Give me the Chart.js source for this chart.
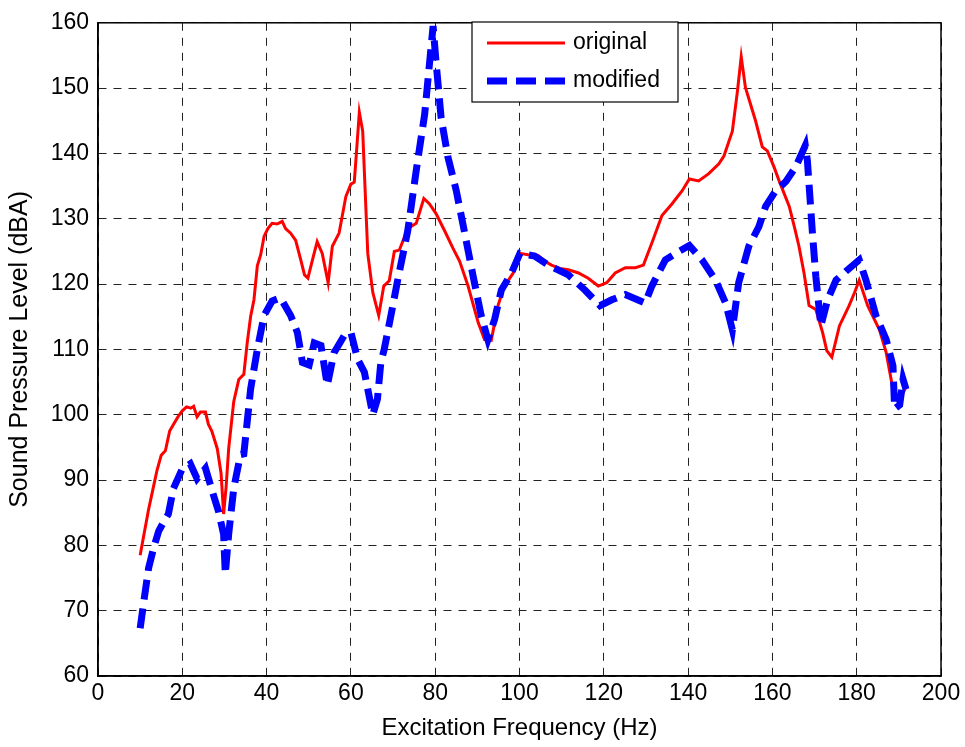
<!DOCTYPE html>
<html>
<head>
<meta charset="utf-8">
<title>Sound Pressure Level vs Excitation Frequency</title>
<script src="https://cdn.jsdelivr.net/npm/chart.js@4.4.1/dist/chart.umd.min.js"></script>
<style>
    html, body { margin: 0; padding: 0; background: #ffffff; }
    #wrap { width: 965px; height: 747px; }
</style>
</head>
<body>
<div id="wrap"><canvas id="splChart" width="965" height="747"></canvas></div>
<script>
// ---- data ----
const freqOriginal = [10, 11, 12, 13, 14, 15, 16, 17, 18, 19, 20, 21, 22, 22.7, 23.5, 24.3, 25.5, 26.2, 27, 28.3, 29.2, 29.8, 30.4, 31, 32.2, 33.4, 34.6, 35.4, 36.2, 37, 37.8, 38.6, 39.4, 40.3, 41.3, 42.5, 43.7, 44.5, 45.7, 46.9, 48.1, 49, 49.8, 51, 52, 53.2, 54.6, 55.6, 57.2, 58.8, 60, 60.8, 61.3, 62, 62.8, 63.4, 64, 65.2, 66.6, 67.8, 69.1, 70.3, 71.5, 73.5, 75.5, 77.3, 78.6, 80.2, 82.2, 84.2, 85.8, 87.8, 90.2, 91.7, 93.3, 94.9, 96.4, 98.5, 100.1, 102, 104.4, 106, 107.6, 109.5, 111.6, 114, 116.3, 118.7, 120.7, 122.7, 125.1, 127.5, 129.4, 131.4, 133.8, 136.2, 138.6, 140.3, 142.5, 144.9, 147.3, 148.5, 150.5, 151.7, 152.6, 153.6, 156, 157.6, 158.8, 160.4, 161.6, 164, 165.2, 166.3, 167.5, 168.7, 170.3, 171.9, 172.9, 174.1, 175.9, 178.2, 179.5, 180.6, 182.6, 185.4, 187, 188.6, 190.2, 191.7];
const splOriginal = [78.5, 82, 85.5, 88.5, 91.5, 93.8, 94.5, 97.5, 98.6, 99.7, 100.6, 101.2, 101, 101.3, 99.7, 100.4, 100.4, 98.5, 97.5, 94.8, 91, 84.8, 89, 94.8, 102, 105.4, 106.2, 111, 115, 117.6, 122.8, 124.5, 127.3, 128.5, 129.3, 129.2, 129.6, 128.5, 127.8, 126.7, 123.7, 121.4, 120.9, 124, 126.5, 124.7, 120.2, 125.8, 127.8, 133.4, 135.3, 135.6, 140, 146.3, 143.4, 134, 124.7, 118.7, 115.2, 119.7, 120.5, 125, 125.2, 128.5, 129.3, 133.1, 132.3, 130.8, 128.2, 125.5, 123.5, 119.7, 114.1, 111.5, 111.4, 116.7, 119.7, 121.7, 124.7, 124.5, 124.4, 123.5, 122.9, 122.4, 122.2, 121.7, 120.9, 119.7, 120.2, 121.7, 122.5, 122.5, 122.9, 126.3, 130.5, 132.3, 134.3, 136.1, 135.8, 136.9, 138.4, 139.6, 143.4, 149.5, 154.8, 150.1, 145, 141, 140.4, 137.9, 135.8, 131.9, 128.8, 125.8, 121.7, 116.7, 116.1, 112.6, 109.8, 108.8, 113.6, 116.7, 118.7, 120.6, 116.7, 113, 109.5, 103.9, 102.4, 104.2];

const freqModified = [10, 11, 12, 13.2, 14.4, 15.5, 16.7, 17.9, 19.9, 21.9, 23.5, 25.5, 27.1, 28.6, 29.8, 30.2, 31, 32.2, 33.8, 34.6, 36.2, 37.8, 39.4, 41.3, 43.3, 45.7, 47.3, 48.5, 50.1, 51.3, 52.9, 54.4, 56, 58.4, 60, 61.6, 63.2, 65.2, 66.3, 67.1, 67.9, 69.5, 71.1, 73.5, 75.5, 77.5, 79.5, 80.2, 81.4, 83, 85, 87, 89, 90.9, 92.5, 94.1, 95.7, 98.1, 100.1, 103.6, 107.1, 111.6, 115.5, 119.1, 121.9, 125.1, 129.8, 131.4, 134.6, 137.8, 140.3, 143.3, 146.5, 148.9, 150.5, 152, 154.4, 156.8, 158.4, 160.8, 163.2, 165.5, 167.8, 168.3, 169.5, 170.3, 171.5, 173.1, 175.1, 177.5, 180.6, 182.2, 184.6, 187, 188.6, 189, 190.2, 191, 191.7];
const splModified = [67.3, 72, 76.5, 79.6, 82.2, 83.5, 84.8, 88.7, 91.6, 92.5, 90.2, 91.8, 88.3, 85.2, 81.7, 75.6, 81.7, 88.7, 93.9, 94, 103.9, 110, 115.2, 117.4, 117.9, 115.2, 112.6, 108, 107.6, 111, 110.6, 104.5, 109.5, 112.1, 112.6, 108.5, 106.5, 100, 102.4, 108, 110, 115.2, 120.6, 128.2, 137.4, 146, 159.5, 154, 145.5, 139.5, 134.3, 127.8, 121.2, 115.2, 111.5, 114.6, 119.1, 121.7, 124.7, 124.3, 122.8, 121.4, 119.1, 116.7, 117.6, 118.4, 117.1, 119.7, 123.7, 125, 125.9, 123.7, 120.6, 117.1, 113, 120.2, 125.8, 128.8, 131.9, 134.3, 135.7, 137.9, 141.2, 138.9, 127.8, 121.2, 113.6, 117.6, 120.6, 122, 123.7, 120.6, 115.1, 111.5, 107.5, 100.9, 101.5, 105.4, 103.9];

const seriesLabels = ["original", "modified"];
const xTicks = [0, 20, 40, 60, 80, 100, 120, 140, 160, 180, 200];
const yTicks = [60, 70, 80, 90, 100, 110, 120, 130, 140, 150, 160];

function toPoints(xs, ys) {
    return xs.map(function (x, i) { return { x: x, y: ys[i] }; });
}

const FONT = "'Liberation Sans', Arial, sans-serif";

// box around the axes, like the matlab frame
const framePlugin = {
    id: "frame",
    afterDraw: function (chart) {
        const a = chart.chartArea;
        const ctx = chart.ctx;
        ctx.save();
        ctx.strokeStyle = "#000";
        ctx.lineWidth = 1.5;
        ctx.strokeRect(a.left, a.top, a.right - a.left, a.bottom - a.top);
        ctx.restore();
    }
};

// legend box in the upper middle
const legendBox = {
    id: "legendBox",
    afterDraw: function (chart) {
        const ctx = chart.ctx;
        const box = { x: 472, y: 22, w: 206, h: 80 };
        ctx.save();
        ctx.fillStyle = "#fff";
        ctx.fillRect(box.x, box.y, box.w, box.h);
        ctx.strokeStyle = "#000";
        ctx.lineWidth = 1.2;
        ctx.strokeRect(box.x, box.y, box.w, box.h);
        const rows = [43, 81];
        chart.data.datasets.forEach(function (ds, i) {
            const y = rows[i];
            ctx.beginPath();
            ctx.strokeStyle = ds.borderColor;
            ctx.lineWidth = ds.borderWidth;
            ctx.setLineDash(ds.borderDash || []);
            ctx.moveTo(487, y);
            ctx.lineTo(565, y);
            ctx.stroke();
            ctx.setLineDash([]);
            ctx.fillStyle = "#000";
            ctx.font = "23px " + FONT;
            ctx.textBaseline = "middle";
            ctx.fillText(ds.label, 573, y);
        });
        ctx.restore();
    }
};

const ctx = document.getElementById("splChart");

new Chart(ctx, {
    type: "line",
    data: {
        datasets: [
            {
                label: seriesLabels[0],
                data: toPoints(freqOriginal, splOriginal),
                borderColor: "#ff0000",
                borderWidth: 3,
                pointRadius: 0,
                tension: 0,
                fill: false,
                order: 1
            },
            {
                label: seriesLabels[1],
                data: toPoints(freqModified, splModified),
                borderColor: "#0000ff",
                borderWidth: 7,
                borderDash: [20, 9],
                borderCapStyle: "butt",
                pointRadius: 0,
                tension: 0,
                fill: false,
                order: 0
            }
        ]
    },
    options: {
        responsive: false,
        animation: false,
        layout: {
            padding: { left: 0, top: 19, right: 24, bottom: 0 }
        },
        plugins: {
            legend: { display: false },
            tooltip: { enabled: false }
        },
        scales: {
            x: {
                type: "linear",
                min: 0,
                max: 200,
                afterBuildTicks: function (scale) {
                    scale.ticks = xTicks.map(function (v) { return { value: v }; });
                },
                afterFit: function (scale) { scale.height = 71; },
                grid: {
                    color: "#222",
                    lineWidth: 1,
                    drawTicks: false
                },
                border: { display: true, color: "#000", width: 1.5, dash: [8, 7] },
                ticks: {
                    color: "#000",
                    padding: 4,
                    maxRotation: 0,
                    font: { family: FONT, size: 23 }
                },
                title: {
                    display: true,
                    text: "Excitation Frequency (Hz)",
                    color: "#000",
                    padding: { top: 0, bottom: 4 },
                    font: { family: FONT, size: 24 }
                }
            },
            y: {
                type: "linear",
                min: 60,
                max: 160,
                afterBuildTicks: function (scale) {
                    scale.ticks = yTicks.map(function (v) { return { value: v }; });
                },
                afterFit: function (scale) { scale.width = 98; },
                grid: {
                    color: "#222",
                    lineWidth: 1,
                    drawTicks: false
                },
                border: { display: true, color: "#000", width: 1.5, dash: [8, 7] },
                ticks: {
                    color: "#000",
                    padding: 9,
                    font: { family: FONT, size: 23 }
                },
                title: {
                    display: true,
                    text: "Sound Pressure Level (dBA)",
                    color: "#000",
                    padding: { top: 5, bottom: 0 },
                    font: { family: FONT, size: 25 }
                }
            }
        }
    },
    plugins: [framePlugin, legendBox]
});
</script>
</body>
</html>
